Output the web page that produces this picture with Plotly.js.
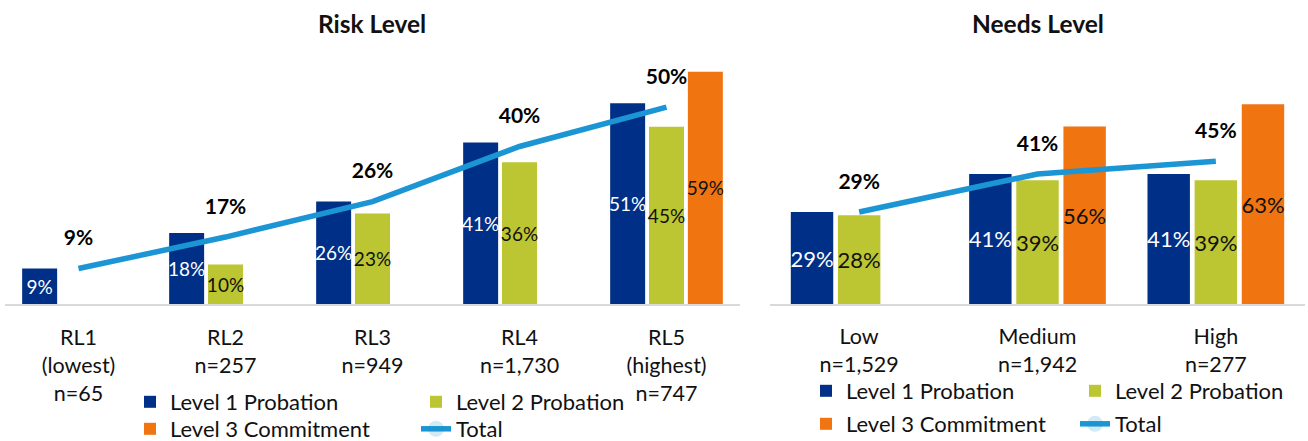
<!DOCTYPE html>
<html>
<head>
<meta charset="utf-8">
<script src="https://cdn.plot.ly/plotly-3.0.1.min.js"></script>
<style>
html, body { margin: 0; padding: 0; background: #ffffff; }
#chart { width: 1308px; height: 441px; }
</style>
</head>
<body>
<div id="chart"></div>
<script>
// ---- Data ----
var seriesNames = ["Level 1 Probation", "Level 2 Probation", "Level 3 Commitment", "Total"];

var riskCategories = ["RL1", "RL2", "RL3", "RL4", "RL5"];
var riskTickLabels = ["RL1<br>(lowest)<br>n=65", "RL2<br>n=257", "RL3<br>n=949", "RL4<br>n=1,730", "RL5<br>(highest)<br>n=747"];
var riskLevel1 = [9, 18, 26, 41, 51];
var riskLevel2 = [null, 10, 23, 36, 45];
var riskLevel3 = [null, null, null, null, 59];
var riskTotal = [9, 17, 26, 40, 50];

var needsCategories = ["Low", "Medium", "High"];
var needsTickLabels = ["Low<br>n=1,529", "Medium<br>n=1,942", "High<br>n=277"];
var needsLevel1 = [29, 41, 41];
var needsLevel2 = [28, 39, 39];
var needsLevel3 = [null, 56, 63];
var needsTotal = [29, 41, 45];

// ---- Styles ----
var FONT = "Lato, 'Open Sans', sans-serif";
var colors = ["#002F87", "#BCC532", "#F07511", "#1B95D3"];
var textColors = ["#ffffff", "#111111", "#111111"];

function barTrace(name, x, y, idx, xa, ya, legendId, fontSize) {
  return {
    type: "bar", name: name, x: x, y: y, xaxis: xa, yaxis: ya,
    legend: legendId,
    marker: { color: colors[idx] },
    texttemplate: "%{y}%",
    textposition: "inside",
    insidetextanchor: "middle",
    constraintext: "none",
    textangle: 0,
    cliponaxis: false,
    textfont: { family: FONT, size: fontSize, color: textColors[idx] },
    hoverinfo: "x+y"
  };
}
function lineTrace(name, x, y, xa, ya, legendId) {
  return {
    type: "scatter", mode: "lines+markers+text", name: name, x: x, y: y,
    xaxis: xa, yaxis: ya, legend: legendId,
    line: { color: colors[3], width: 5.5 },
    marker: { size: 27, opacity: 0, color: colors[3] },
    texttemplate: "%{y}%",
    textposition: "top center",
    textfont: { family: FONT, size: 21, color: "#000000", weight: "bold" },
    cliponaxis: false
  };
}

var data = [
  barTrace(seriesNames[0], riskCategories, riskLevel1, 0, "x", "y", "legend", 19),
  barTrace(seriesNames[1], riskCategories, riskLevel2, 1, "x", "y", "legend", 19),
  barTrace(seriesNames[2], riskCategories, riskLevel3, 2, "x", "y", "legend2", 19),
  lineTrace(seriesNames[3], riskCategories, riskTotal, "x", "y", "legend2"),
  barTrace(seriesNames[0], needsCategories, needsLevel1, 0, "x2", "y2", "legend3", 22),
  barTrace(seriesNames[1], needsCategories, needsLevel2, 1, "x2", "y2", "legend3", 22),
  barTrace(seriesNames[2], needsCategories, needsLevel3, 2, "x2", "y2", "legend4", 22),
  lineTrace(seriesNames[3], needsCategories, needsTotal, "x2", "y2", "legend4")
];

var W = 1308, H = 441;
function px(x) { return x / W; }
function py(y) { return (H - y) / H; }

function legendCfg(xPix, yPix, entryW) {
  return {
    orientation: "h", x: px(xPix), y: py(yPix), xanchor: "left", yanchor: "middle",
    bgcolor: "rgba(0,0,0,0)", entrywidth: entryW, entrywidthmode: "pixels",
    font: { family: FONT, size: 22, color: "#111111" }, traceorder: "normal"
  };
}

var layout = {
  width: W, height: H,
  margin: { l: 0, r: 0, t: 0, b: 0, autoexpand: false },
  paper_bgcolor: "#ffffff", plot_bgcolor: "#ffffff",
  font: { family: FONT, color: "#111111" },
  barmode: "group", bargap: 0.207, bargroupgap: 0.1,
  hovermode: false,
  xaxis: {
    domain: [px(5), px(740)], type: "category", range: [-0.5, 4.5],
    tickvals: riskCategories, ticktext: riskTickLabels,
    showline: true, linecolor: "#D9D9D9", linewidth: 2,
    ticks: "", showgrid: false, zeroline: false, ticklabelstandoff: 13,
    tickfont: { family: FONT, size: 21.5, color: "#111111" }, fixedrange: true
  },
  yaxis: {
    domain: [py(304), py(50)], range: [0, 64.5],
    showticklabels: false, showgrid: false, zeroline: false, showline: false, fixedrange: true
  },
  xaxis2: {
    domain: [px(770), px(1305)], type: "category", range: [-0.5, 2.5], anchor: "y2",
    tickvals: needsCategories, ticktext: needsTickLabels,
    showline: true, linecolor: "#D9D9D9", linewidth: 2,
    ticks: "", showgrid: false, zeroline: false, ticklabelstandoff: 12,
    tickfont: { family: FONT, size: 21.5, color: "#111111" }, fixedrange: true
  },
  yaxis2: {
    domain: [py(304), py(50)], range: [0, 80.1], anchor: "x2",
    showticklabels: false, showgrid: false, zeroline: false, showline: false, fixedrange: true
  },
  legend: legendCfg(130, 402, 241),
  legend2: legendCfg(130, 429, 241),
  legend3: legendCfg(806, 391, 224),
  legend4: legendCfg(806, 424, 224),
  annotations: [
    { text: "<b>Risk Level</b>", xref: "paper", yref: "paper", x: px(372), y: py(24),
      xanchor: "center", yanchor: "middle", showarrow: false,
      font: { family: FONT, size: 24.5, color: "#111111" } },
    { text: "<b>Needs Level</b>", xref: "paper", yref: "paper", x: px(1038), y: py(24),
      xanchor: "center", yanchor: "middle", showarrow: false,
      font: { family: FONT, size: 24.5, color: "#111111" } }
  ]
};

Plotly.newPlot("chart", data, layout, { displayModeBar: false, staticPlot: true });
</script>
</body>
</html>
